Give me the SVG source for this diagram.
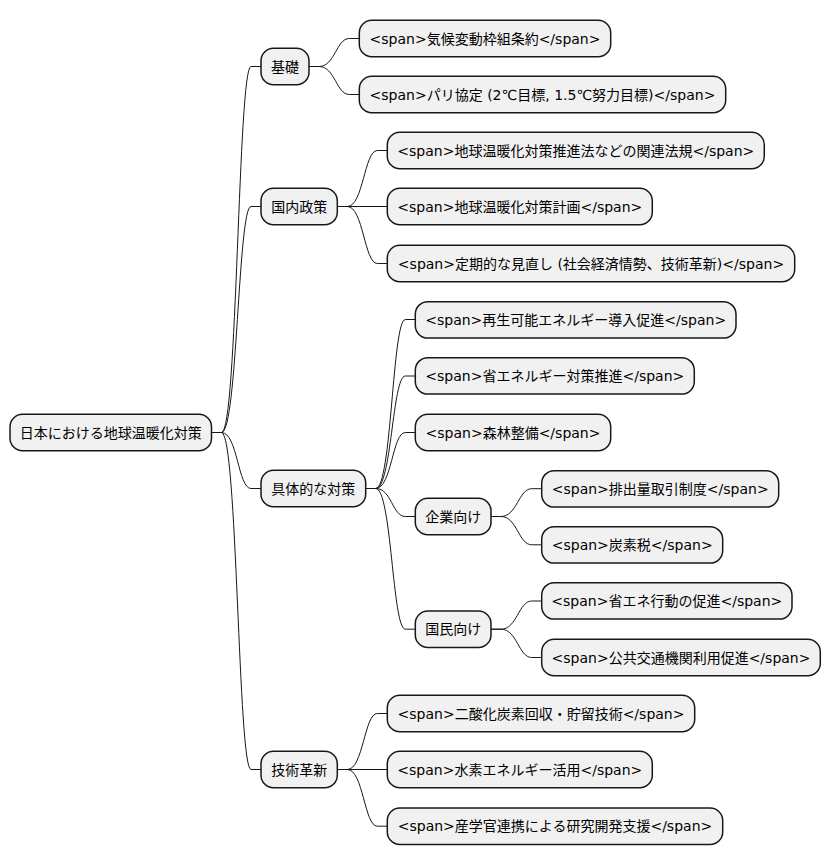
<svg xmlns="http://www.w3.org/2000/svg" width="831" height="865" viewBox="0 0 831 865">
<style>
rect{fill:#F1F1F1;stroke:#181818;stroke-width:1.5}
text{font-family:"DejaVu Sans","Noto Sans CJK JP",sans-serif;font-size:14px;fill:#000;text-anchor:middle}
#edges path{fill:none;stroke:#181818;stroke-width:1}
</style>
<rect x="0" y="0" width="831" height="865" style="fill:#fff;stroke:none"/>
<g id="edges">
<path d="M211.5,432.5 L221.5,432.5 C237.5,432.5 238,66.5 251,66.5 L261,66.5"/>
<path d="M211.5,432.5 L221.5,432.5 C237.5,432.5 238,206.5 251,206.5 L261,206.5"/>
<path d="M211.5,432.5 L221.5,432.5 C237.5,432.5 238,488.5 251,488.5 L261,488.5"/>
<path d="M211.5,432.5 L221.5,432.5 C237.5,432.5 238,769.5 251,769.5 L261,769.5"/>
<path d="M309,66.5 L319,66.5 C335,66.5 336.3,38.5 349.3,38.5 L359.3,38.5"/>
<path d="M309,66.5 L319,66.5 C335,66.5 336.3,94.5 349.3,94.5 L359.3,94.5"/>
<path d="M337.3,206.5 L347.3,206.5 C363.3,206.5 364.3,150.5 377.3,150.5 L387.3,150.5"/>
<path d="M337.3,206.5 L387.3,206.5"/>
<path d="M337.3,206.5 L347.3,206.5 C363.3,206.5 364.3,263.5 377.3,263.5 L387.3,263.5"/>
<path d="M365.7,488.5 L375.7,488.5 C391.7,488.5 392.3,319.5 405.3,319.5 L415.3,319.5"/>
<path d="M365.7,488.5 L375.7,488.5 C391.7,488.5 392.3,376 405.3,376 L415.3,376"/>
<path d="M365.7,488.5 L375.7,488.5 C391.7,488.5 392.3,432.5 405.3,432.5 L415.3,432.5"/>
<path d="M365.7,488.5 L375.7,488.5 C391.7,488.5 392.3,516.5 405.3,516.5 L415.3,516.5"/>
<path d="M365.7,488.5 L375.7,488.5 C391.7,488.5 392.3,629.2 405.3,629.2 L415.3,629.2"/>
<path d="M491,516.5 L501,516.5 C517,516.5 518.7,488.7 531.7,488.7 L541.7,488.7"/>
<path d="M491,516.5 L501,516.5 C517,516.5 518.7,544.8 531.7,544.8 L541.7,544.8"/>
<path d="M491,629.2 L501,629.2 C517,629.2 518.7,601 531.7,601 L541.7,601"/>
<path d="M491,629.2 L501,629.2 C517,629.2 518.7,657.5 531.7,657.5 L541.7,657.5"/>
<path d="M337.3,769.5 L347.3,769.5 C363.3,769.5 364.3,713.5 377.3,713.5 L387.3,713.5"/>
<path d="M337.3,769.5 L387.3,769.5"/>
<path d="M337.3,769.5 L347.3,769.5 C363.3,769.5 364.3,826.2 377.3,826.2 L387.3,826.2"/>
</g>
<g id="root"><rect x="10" y="414.3" width="201.5" height="36.4" rx="12.5"/><text x="110.7" y="437.5">日本における地球温暖化対策</text></g>
<g id="kiso"><rect x="261" y="48.3" width="48" height="36.4" rx="12.5"/><text x="285" y="71.5">基礎</text></g>
<g id="kiso1"><rect x="359.3" y="20.3" width="251.4" height="36.4" rx="12.5"/><text x="485" y="43.5">&lt;span&gt;気候変動枠組条約&lt;/span&gt;</text></g>
<g id="kiso2"><rect x="359.3" y="76.3" width="366.4" height="36.4" rx="12.5"/><text x="542.5" y="99.5">&lt;span&gt;パリ協定 (2℃目標, 1.5℃努力目標)&lt;/span&gt;</text></g>
<g id="kokunai"><rect x="261" y="188.3" width="76.3" height="36.4" rx="12.5"/><text x="299.2" y="211.5">国内政策</text></g>
<g id="kokunai1"><rect x="387.3" y="132.3" width="377" height="36.4" rx="12.5"/><text x="575.8" y="155.5">&lt;span&gt;地球温暖化対策推進法などの関連法規&lt;/span&gt;</text></g>
<g id="kokunai2"><rect x="387.3" y="188.3" width="265" height="36.4" rx="12.5"/><text x="519.8" y="211.5">&lt;span&gt;地球温暖化対策計画&lt;/span&gt;</text></g>
<g id="kokunai3"><rect x="387.3" y="245.3" width="407.4" height="36.4" rx="12.5"/><text x="591" y="268.5">&lt;span&gt;定期的な見直し (社会経済情勢、技術革新)&lt;/span&gt;</text></g>
<g id="gutai"><rect x="261" y="470.3" width="104.7" height="36.4" rx="12.5"/><text x="313.3" y="493.5">具体的な対策</text></g>
<g id="gutai1"><rect x="415.3" y="301.7" width="320.7" height="36.4" rx="12.5"/><text x="575.7" y="324.9">&lt;span&gt;再生可能エネルギー導入促進&lt;/span&gt;</text></g>
<g id="gutai2"><rect x="415.3" y="357.7" width="279" height="36.4" rx="12.5"/><text x="554.8" y="380.9">&lt;span&gt;省エネルギー対策推進&lt;/span&gt;</text></g>
<g id="gutai3"><rect x="415.3" y="414.3" width="195.4" height="36.4" rx="12.5"/><text x="513" y="437.5">&lt;span&gt;森林整備&lt;/span&gt;</text></g>
<g id="kigyo"><rect x="415.3" y="498.3" width="75.7" height="36.4" rx="12.5"/><text x="453.2" y="521.5">企業向け</text></g>
<g id="kigyo1"><rect x="541.7" y="470.7" width="237" height="36.4" rx="12.5"/><text x="660.2" y="493.9">&lt;span&gt;排出量取引制度&lt;/span&gt;</text></g>
<g id="kigyo2"><rect x="541.7" y="526.7" width="181" height="36.4" rx="12.5"/><text x="632.2" y="549.9">&lt;span&gt;炭素税&lt;/span&gt;</text></g>
<g id="kokumin"><rect x="415.3" y="611" width="75.7" height="36.4" rx="12.5"/><text x="453.2" y="634.2">国民向け</text></g>
<g id="kokumin1"><rect x="541.7" y="582.7" width="250.3" height="36.4" rx="12.5"/><text x="666.8" y="605.9">&lt;span&gt;省エネ行動の促進&lt;/span&gt;</text></g>
<g id="kokumin2"><rect x="541.7" y="639.3" width="278.6" height="36.4" rx="12.5"/><text x="681" y="662.5">&lt;span&gt;公共交通機関利用促進&lt;/span&gt;</text></g>
<g id="gijutsu"><rect x="261" y="751.3" width="76.3" height="36.4" rx="12.5"/><text x="299.2" y="774.5">技術革新</text></g>
<g id="gijutsu1"><rect x="387.3" y="695.3" width="307.4" height="36.4" rx="12.5"/><text x="541" y="718.5">&lt;span&gt;二酸化炭素回収・貯留技術&lt;/span&gt;</text></g>
<g id="gijutsu2"><rect x="387.3" y="751.3" width="265" height="36.4" rx="12.5"/><text x="519.8" y="774.5">&lt;span&gt;水素エネルギー活用&lt;/span&gt;</text></g>
<g id="gijutsu3"><rect x="387.3" y="808" width="335.4" height="36.4" rx="12.5"/><text x="555" y="831.2">&lt;span&gt;産学官連携による研究開発支援&lt;/span&gt;</text></g>
</svg>
